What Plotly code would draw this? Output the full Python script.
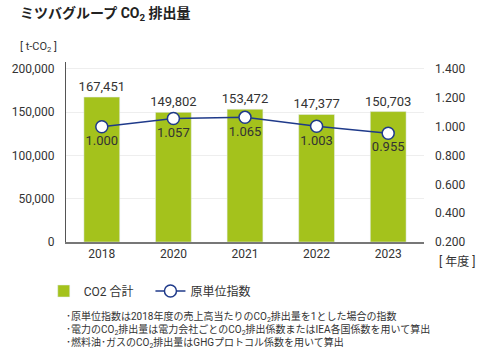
import plotly.graph_objects as go

years = ["2018", "2020", "2021", "2022", "2023"]
co2_total = [167451, 149802, 153472, 147377, 150703]
intensity = [1.000, 1.057, 1.065, 1.003, 0.955]

left_ticks = [0, 50000, 100000, 150000, 200000]
right_ticks = [0.2, 0.4, 0.6, 0.8, 1.0, 1.2, 1.4]

FONT = "Roboto, 'Noto Sans CJK JP', sans-serif"
TXT = "#333333"
GREEN = "#a4c21c"
NAVY = "#1f3a8a"

fig = go.Figure()
fig.add_trace(go.Bar(
    x=years, y=co2_total, name="CO2 合計" + "\u00a0" * 4, marker_color=GREEN, width=0.5,
    text=[f"{v:,}" for v in co2_total], textposition="outside", constraintext="none",
    textfont=dict(size=13, color=TXT, family=FONT), cliponaxis=False,
))
fig.add_trace(go.Scatter(
    x=years, y=intensity, name="原単位指数", yaxis="y2", mode="lines+markers+text",
    line=dict(color=NAVY, width=1.5),
    marker=dict(size=12, color="white", line=dict(color=NAVY, width=1.5)),
    text=[f"{v:.3f}" for v in intensity], textposition="bottom center",
    textfont=dict(size=13, color=TXT, family=FONT), cliponaxis=False,
))

L, R, T, B = 54, 76, 62, 108
W, H = 500, 350
pw, ph = W - L - R, H - T - B

def px(x):
    return (x - L) / pw

def py(y):
    return (H - B - y) / ph

fig.update_layout(
    width=W, height=H, margin=dict(l=L, r=R, t=T, b=B),
    paper_bgcolor="white", plot_bgcolor="white",
    font=dict(family=FONT, color=TXT, size=12),
    bargap=0.5, showlegend=True,
    legend=dict(orientation="h", x=px(31), y=py(291), xanchor="left", yanchor="middle",
                font=dict(size=12, color=TXT), itemwidth=30, traceorder="normal"),
    xaxis=dict(showline=True, linecolor="#777777", linewidth=2, ticks="",
               tickfont=dict(size=12, color=TXT), fixedrange=True),
    yaxis=dict(range=[0, 208000], tickvals=left_ticks, tickformat=",",
               showline=True, linecolor="#555555", linewidth=1,
               showgrid=True, gridcolor="#eeeeee", gridwidth=1, zeroline=False,
               ticks="", ticklabelstandoff=8, tickfont=dict(size=12, color=TXT)),
    yaxis2=dict(range=[0.2, 1.449], tickvals=right_ticks, tickformat=".3f",
                overlaying="y", side="right", showgrid=False, showline=False,
                zeroline=False, ticks="", ticklabelstandoff=10,
                tickfont=dict(size=12, color=TXT)),
    annotations=[
        dict(text="<b>ミツバグループ CO<sub>2</sub> 排出量</b>", x=px(4), y=py(14),
             xref="paper", yref="paper", xanchor="left", yanchor="middle",
             showarrow=False, font=dict(size=14, color="#222222")),
        dict(text="[ t-CO<sub>2</sub> ]", x=px(4), y=py(47),
             xref="paper", yref="paper", xanchor="left", yanchor="middle",
             showarrow=False, font=dict(size=11, color=TXT)),
        dict(text="[ 年度 ]", x=px(437), y=py(262),
             xref="paper", yref="paper", xanchor="left", yanchor="middle",
             showarrow=False, font=dict(size=12, color=TXT)),
        dict(text="･原単位指数は2018年度の売上高当たりのCO<sub>2</sub>排出量を1とした場合の指数<br>"
                  "･電力のCO<sub>2</sub>排出量は電力会社ごとのCO<sub>2</sub>排出係数またはIEA各国係数を用いて算出<br>"
                  "･燃料油･ガスのCO<sub>2</sub>排出量はGHGプロトコル係数を用いて算出",
             x=px(52), y=py(308), xref="paper", yref="paper", xanchor="left", yanchor="top",
             align="left", showarrow=False, font=dict(size=10, color=TXT)),
    ],
)

fig.write_html("out.html")
